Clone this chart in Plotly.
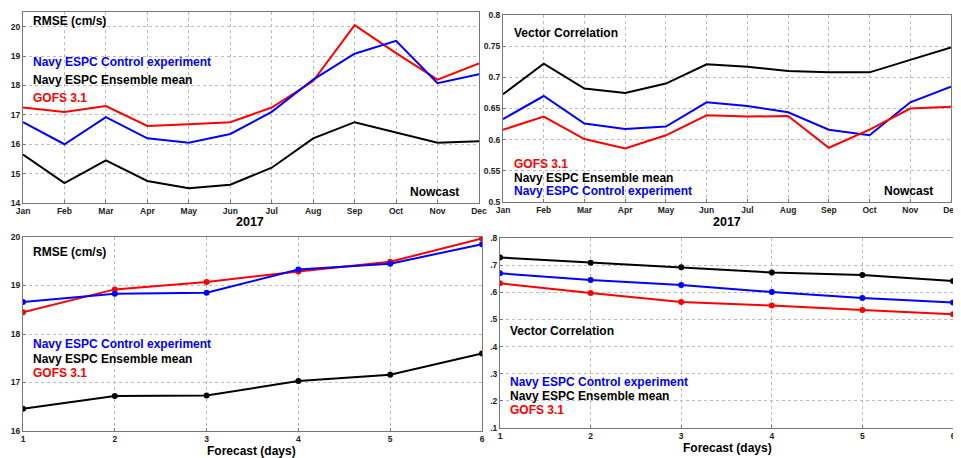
import plotly.graph_objects as go

# Reference canvas size; the page body adds an 8px margin, so the figure is 8px smaller each way
REF_W, REF_H = 961, 458
OFF = 8
W, H = REF_W - OFF, REF_H - OFF

months = ["Jan", "Feb", "Mar", "Apr", "May", "Jun", "Jul", "Aug", "Sep", "Oct", "Nov", "Dec"]
month_idx = list(range(1, 13))
days = [1, 2, 3, 4, 5, 6]

# Nowcast RMSE (cm/s)
rmse_now_ctrl = [16.75, 16.0, 16.92, 16.2, 16.05, 16.35, 17.1, 18.2, 19.08, 19.52, 18.08, 18.38]
rmse_now_ens = [15.65, 14.68, 15.45, 14.75, 14.5, 14.62, 15.2, 16.2, 16.75, 16.4, 16.05, 16.1]
rmse_now_gofs = [17.25, 17.1, 17.3, 16.62, 16.68, 16.75, 17.25, 18.15, 20.05, 19.1, 18.2, 18.75]

# Nowcast vector correlation
vc_now_ens = [0.673, 0.722, 0.682, 0.675, 0.69, 0.721, 0.717, 0.71, 0.708, 0.708, 0.728, 0.748]
vc_now_ctrl = [0.633, 0.67, 0.626, 0.617, 0.621, 0.66, 0.654, 0.644, 0.616, 0.607, 0.66, 0.685]
vc_now_gofs = [0.616, 0.637, 0.601, 0.586, 0.607, 0.639, 0.637, 0.638, 0.587, 0.616, 0.65, 0.653]

# Forecast RMSE (cm/s)
rmse_fc_ctrl = [18.66, 18.83, 18.85, 19.33, 19.45, 19.85]
rmse_fc_ens = [16.46, 16.72, 16.73, 17.03, 17.16, 17.6]
rmse_fc_gofs = [18.45, 18.92, 19.07, 19.29, 19.49, 19.97]

# Forecast vector correlation
vc_fc_ens = [0.728, 0.709, 0.692, 0.673, 0.664, 0.642]
vc_fc_ctrl = [0.67, 0.645, 0.627, 0.601, 0.579, 0.562]
vc_fc_gofs = [0.633, 0.597, 0.564, 0.551, 0.535, 0.519]

vc_fc_ticks = [0.1, 0.2, 0.3, 0.4, 0.5, 0.6, 0.7, 0.8]
vc_fc_ticktext = [".1", ".2", ".3", ".4", ".5", ".6", ".7", ".8"]

BLUE, BLACK, RED = "#0000ff", "#000000", "#ff0000"
FONT = "Liberation Sans, Arial, sans-serif"


def px_x(p):
    return (p - OFF) / W


def px_y(p):
    return 1 - (p - OFF) / H


fig = go.Figure()

# Top-left
fig.add_trace(go.Scatter(x=month_idx, y=rmse_now_gofs, mode="lines", line=dict(color=RED, width=2), xaxis="x", yaxis="y"))
fig.add_trace(go.Scatter(x=month_idx, y=rmse_now_ctrl, mode="lines", line=dict(color=BLUE, width=2), xaxis="x", yaxis="y"))
fig.add_trace(go.Scatter(x=month_idx, y=rmse_now_ens, mode="lines", line=dict(color=BLACK, width=2), xaxis="x", yaxis="y"))
# Top-right
fig.add_trace(go.Scatter(x=month_idx, y=vc_now_ens, mode="lines", line=dict(color=BLACK, width=2), xaxis="x2", yaxis="y2"))
fig.add_trace(go.Scatter(x=month_idx, y=vc_now_ctrl, mode="lines", line=dict(color=BLUE, width=2), xaxis="x2", yaxis="y2"))
fig.add_trace(go.Scatter(x=month_idx, y=vc_now_gofs, mode="lines", line=dict(color=RED, width=2), xaxis="x2", yaxis="y2"))
# Bottom-left
mk = dict(size=6)
fig.add_trace(go.Scatter(x=days, y=rmse_fc_ens, mode="lines+markers", line=dict(color=BLACK, width=2), marker=dict(color=BLACK, **mk), xaxis="x3", yaxis="y3"))
fig.add_trace(go.Scatter(x=days, y=rmse_fc_gofs, mode="lines+markers", line=dict(color=RED, width=2), marker=dict(color=RED, **mk), xaxis="x3", yaxis="y3"))
fig.add_trace(go.Scatter(x=days, y=rmse_fc_ctrl, mode="lines+markers", line=dict(color=BLUE, width=2), marker=dict(color=BLUE, **mk), xaxis="x3", yaxis="y3"))
# Bottom-right
fig.add_trace(go.Scatter(x=days, y=vc_fc_ens, mode="lines+markers", line=dict(color=BLACK, width=2), marker=dict(color=BLACK, **mk), xaxis="x4", yaxis="y4"))
fig.add_trace(go.Scatter(x=days, y=vc_fc_ctrl, mode="lines+markers", line=dict(color=BLUE, width=2), marker=dict(color=BLUE, **mk), xaxis="x4", yaxis="y4"))
fig.add_trace(go.Scatter(x=days, y=vc_fc_gofs, mode="lines+markers", line=dict(color=RED, width=2), marker=dict(color=RED, **mk), xaxis="x4", yaxis="y4"))

tickfont = dict(family=FONT, size=8.5, color="#222", weight="bold")
common = dict(showgrid=True, gridcolor="#bbbbbb", griddash="dot", gridwidth=1,
              showline=True, linecolor="#777777", linewidth=1, mirror=True,
              ticks="inside", ticklen=3, tickcolor="#777777", tickfont=tickfont, zeroline=False,
              automargin=False)

fig.update_layout(
    width=W, height=H, margin=dict(l=0, r=0, t=0, b=0, autoexpand=False),
    paper_bgcolor="white", plot_bgcolor="white", showlegend=False,
    xaxis=dict(domain=[px_x(23), px_x(479)], range=[1, 12], tickvals=month_idx, ticktext=months,
               anchor="y", **common),
    yaxis=dict(domain=[px_y(203), px_y(12)], range=[14, 20.5], tickvals=[14, 15, 16, 17, 18, 19, 20],
               anchor="x", **common),
    xaxis2=dict(domain=[px_x(503), px_x(951)], range=[1, 12], tickvals=month_idx, ticktext=months,
                anchor="y2", **common),
    yaxis2=dict(domain=[px_y(202), px_y(15)], range=[0.5, 0.8], tickvals=[0.5, 0.55, 0.6, 0.65, 0.7, 0.75, 0.8],
                anchor="x2", **common),
    xaxis3=dict(domain=[px_x(23), px_x(482)], range=[1, 6], tickvals=days, anchor="y3", **common),
    yaxis3=dict(domain=[px_y(431), px_y(237)], range=[16, 20], tickvals=[16, 17, 18, 19, 20],
                anchor="x3", **common),
    xaxis4=dict(domain=[px_x(500), px_x(953)], range=[1, 6], tickvals=days, anchor="y4", **common),
    yaxis4=dict(domain=[px_y(428), px_y(238)], range=[0.1, 0.8], tickvals=vc_fc_ticks, ticktext=vc_fc_ticktext,
                anchor="x4", **common),
)

LAB = 12


def note(text, x, y, color=BLACK, xanchor="left", size=LAB):
    fig.add_annotation(text=text, x=px_x(x), y=px_y(y), xref="paper", yref="paper",
                       xanchor=xanchor, yanchor="middle", showarrow=False,
                       font=dict(family=FONT, size=size, color=color, weight="bold"))


# Top-left
note("RMSE (cm/s)", 31, 21)
note("Navy ESPC Control experiment", 31, 62, BLUE)
note("Navy ESPC Ensemble mean", 31, 80)
note("GOFS 3.1", 31, 98, RED)
note("Nowcast", 461, 192, xanchor="right")
note("2017", 250, 222, xanchor="center", size=12.5)
# Top-right
note("Vector Correlation", 512, 33)
note("GOFS 3.1", 512, 164, RED)
note("Navy ESPC Ensemble mean", 512, 178)
note("Navy ESPC Control experiment", 512, 191, BLUE)
note("Nowcast", 935, 191, xanchor="right")
note("2017", 727, 222, xanchor="center", size=12.5)
# Bottom-left
note("RMSE (cm/s)", 31, 252)
note("Navy ESPC Control experiment", 31, 344, BLUE)
note("Navy ESPC Ensemble mean", 31, 359)
note("GOFS 3.1", 31, 373, RED)
note("Forecast (days)", 252, 451, xanchor="center", size=12)
# Bottom-right
note("Vector Correlation", 508, 331)
note("Navy ESPC Control experiment", 508, 382, BLUE)
note("Navy ESPC Ensemble mean", 508, 396)
note("GOFS 3.1", 508, 410, RED)
note("Forecast (days)", 727, 448, xanchor="center", size=12)

fig.write_html("out.html")
